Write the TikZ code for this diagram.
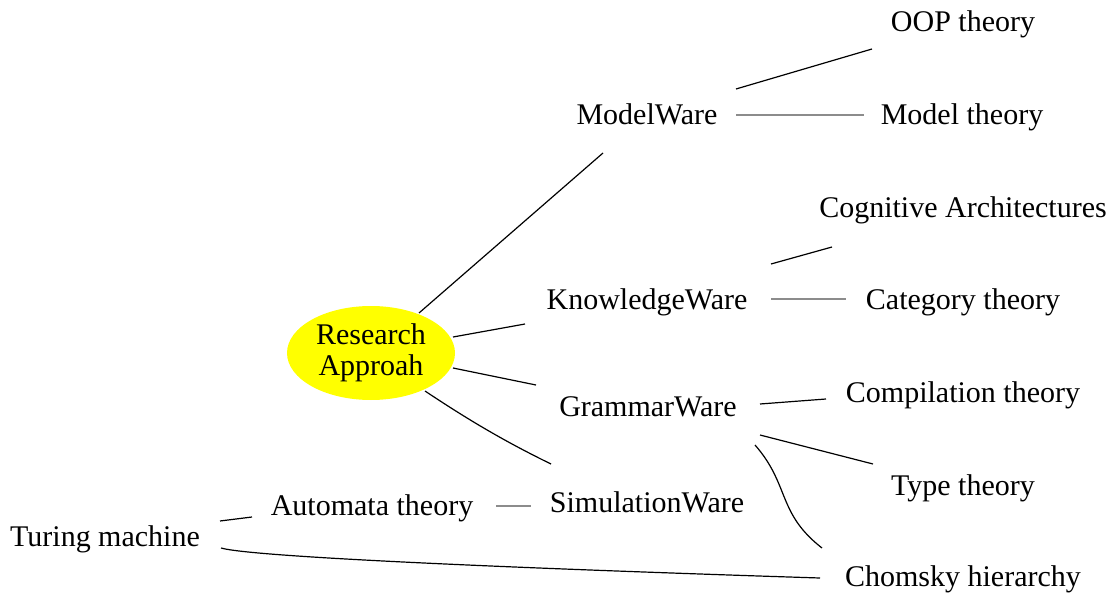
\documentclass[tikz,border=0pt]{standalone}
\usepackage{fontspec}
\setmainfont{Liberation Serif}
\usetikzlibrary{shapes.geometric}
\definecolor{hubyellow}{RGB}{255,255,0}
\begin{document}
\begin{tikzpicture}[x=1pt,y=-1pt,
  lbl/.style={inner sep=0pt,text height=19pt,text depth=0pt,font=\fontsize{30}{35}\selectfont},
  hub/.style={ellipse,fill=hubyellow,minimum width=168pt,minimum height=94pt,inner sep=0pt,
    align=center,font=\fontsize{30}{31}\selectfont},
  link/.style={line width=1.2pt,black},
  flat/.style={line width=2pt,black!45}]
\useasboundingbox (0,0) rectangle (1114,599);

% nodes
\node[hub] (RA) at (371,353) {Research\\Approah};
\node[lbl] (MW) at (647,115) {ModelWare};
\node[lbl] (KW) at (647,300) {KnowledgeWare};
\node[lbl] (GW) at (648,407) {GrammarWare};
\node[lbl] (SW) at (647,503) {SimulationWare};
\node[lbl] (OOP) at (963,22) {OOP theory};
\node[lbl] (MT) at (962,115) {Model theory};
\node[lbl] (CA) at (963,208) {Cognitive Architectures};
\node[lbl] (CT) at (963,300) {Category theory};
\node[lbl] (CP) at (963,393) {Compilation theory};
\node[lbl] (TT) at (963,486) {Type theory};
\node[lbl] (CH) at (963,577) {Chomsky hierarchy};
\node[lbl] (AT) at (372,506) {Automata theory};
\node[lbl] (TM) at (105,537) {Turing machine};

% connectors from the central ellipse
\draw[link] ([shift={(48,-40)}]RA.center) -- ([shift={(-44,38)}]MW.center);
\draw[link] ([shift={(82,-16)}]RA.center) -- ([shift={(-122,24)}]KW.center);
\draw[link] ([shift={(82,15)}]RA.center) -- ([shift={(-112,-22)}]GW.center);
\draw[link] ([shift={(54,38)}]RA.center) .. controls +(45,30) and +(-45,-22) .. ([shift={(-96,-39)}]SW.center);

% ModelWare branch
\draw[link] ([shift={(89,-26)}]MW.center) -- ([shift={(-91,27)}]OOP.center);
\draw[flat] ([shift={(89,0)}]MW.center) -- ([shift={(-98,0)}]MT.center);

% KnowledgeWare branch
\draw[link] ([shift={(124,-36)}]KW.center) -- ([shift={(-131,39)}]CA.center);
\draw[flat] ([shift={(124,-1)}]KW.center) -- ([shift={(-117,-1)}]CT.center);

% GrammarWare branch
\draw[link] ([shift={(112,-3)}]GW.center) -- ([shift={(-137,6)}]CP.center);
\draw[link] ([shift={(112,28)}]GW.center) -- ([shift={(-90,-22)}]TT.center);
\draw[link] ([shift={(107,38)}]GW.center) .. controls +(35,40) and +(-45,-35) .. ([shift={(-141,-29)}]CH.center);

% SimulationWare branch
\draw[flat] ([shift={(124,0)}]AT.center) -- ([shift={(-116,3)}]SW.center);
\draw[link] ([shift={(115,-16)}]TM.center) -- ([shift={(-120,11)}]AT.center);
\draw[link] ([shift={(116,11)}]TM.center) .. controls +(35,10) and +(-250,-8) .. ([shift={(-143,1)}]CH.center);
\end{tikzpicture}
\end{document}
